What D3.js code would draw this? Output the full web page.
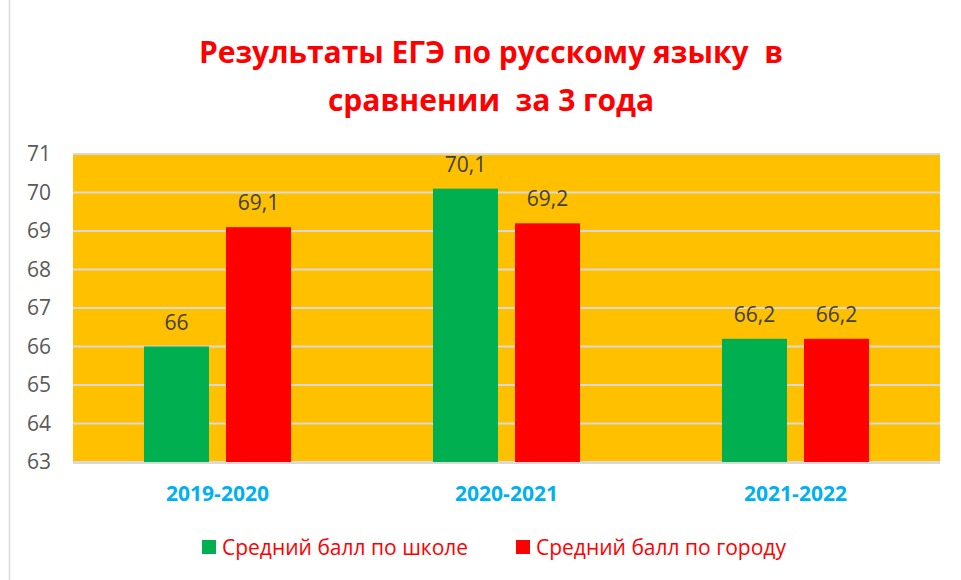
<!DOCTYPE html>
<html><head><meta charset="utf-8">
<script src="https://cdn.jsdelivr.net/npm/d3@7"></script>
<style>body{margin:0;background:#fff}svg{display:block}</style>
</head><body>
<script>
const categories = ["2019-2020", "2020-2021", "2021-2022"];
const seriesNames = ["Средний балл по школе", "Средний балл по городу"];
const schoolValues = [66, 70.1, 66.2];
const cityValues = [69.1, 69.2, 66.2];
const yTicks = [63, 64, 65, 66, 67, 68, 69, 70, 71];
const titleLines = ["Результаты ЕГЭ по русскому языку  в", "сравнении  за 3 года"];
const colors = ["#00B050", "#FF0000"];

const W = 961, H = 580;
const m = {left: 73, right: 21, top: 154, bottom: 118};
const font = "'Open Sans', sans-serif";

const svg = d3.select("body").append("svg").attr("width", W).attr("height", H);
svg.append("rect").attr("width", W).attr("height", H).attr("fill", "#fff");
svg.append("rect").attr("x", 9.5).attr("y", -2).attr("width", W + 10).attr("height", H + 10)
  .attr("fill", "none").attr("stroke", "#D9D9D9").attr("stroke-width", 1.5);

const x0 = d3.scaleBand().domain(categories).range([m.left, W - m.right]).padding(0);
const groupFrac = 0.5087;
const x1 = d3.scaleBand().domain([0, 1])
  .range([x0.bandwidth() * (1 - groupFrac) / 2, x0.bandwidth() * (1 + groupFrac) / 2])
  .paddingInner(0.2073).paddingOuter(0);
const y = d3.scaleLinear().domain([63, 71]).range([H - m.bottom, m.top]);

svg.append("rect").attr("x", m.left).attr("y", m.top)
  .attr("width", W - m.right - m.left).attr("height", H - m.bottom - m.top).attr("fill", "#FFC000");

// gridlines
svg.append("g").selectAll("line").data(yTicks).join("line")
  .attr("x1", m.left).attr("x2", W - m.right)
  .attr("y1", d => y(d)).attr("y2", d => y(d))
  .attr("stroke", "#D9D9D9").attr("stroke-width", 2);

// y axis labels
const yAxis = d3.axisLeft(y).tickValues(yTicks).tickSize(0).tickPadding(22).tickFormat(d3.format("d"));
const ya = svg.append("g").attr("transform", `translate(${m.left},0)`).call(yAxis);
ya.select(".domain").remove();
ya.selectAll("text").attr("font-family", font).attr("font-size", 21).attr("fill", "#595959");

const data = categories.map((c, i) => ({cat: c, vals: [schoolValues[i], cityValues[i]]}));
const groups = svg.append("g").selectAll("g").data(data).join("g")
  .attr("transform", d => `translate(${x0(d.cat)},0)`);
groups.selectAll("rect").data(d => d.vals.map((v, k) => ({v, k}))).join("rect")
  .attr("x", d => x1(d.k)).attr("width", x1.bandwidth())
  .attr("y", d => y(d.v)).attr("height", d => y(63) - y(d.v))
  .attr("fill", d => colors[d.k]);
groups.selectAll("text").data(d => d.vals.map((v, k) => ({v, k}))).join("text")
  .attr("x", d => x1(d.k) + x1.bandwidth() / 2).attr("y", d => y(d.v) - 17)
  .attr("text-anchor", "middle").attr("font-family", font).attr("font-size", 21).attr("fill", "#404040")
  .text(d => String(d.v).replace(".", ","));

// bottom axis line
svg.append("line").attr("x1", m.left).attr("x2", W - m.right)
  .attr("y1", y(63) + 1).attr("y2", y(63) + 1).attr("stroke", "#D9D9D9").attr("stroke-width", 2);

// x axis labels
const xAxis = d3.axisBottom(x0).tickSize(0).tickPadding(24);
const xa = svg.append("g").attr("transform", `translate(0,${H - m.bottom})`).call(xAxis);
xa.select(".domain").remove();
xa.selectAll("text").attr("font-family", font).attr("font-size", 21).attr("font-weight", "bold").attr("fill", "#00B0F0");

// title
svg.append("g").selectAll("text").data(titleLines).join("text")
  .attr("x", 491).attr("y", (d, i) => 63 + i * 48)
  .attr("text-anchor", "middle").attr("font-family", font).attr("font-weight", "bold")
  .attr("font-size", 30).attr("fill", "#FF0000").attr("xml:space", "preserve")
  .style("white-space", "pre").text(d => d);

// legend
const legX = [202, 516];
const leg = svg.append("g").selectAll("g").data(seriesNames).join("g")
  .attr("transform", (d, i) => `translate(${legX[i]},540)`);
leg.append("rect").attr("width", 14).attr("height", 14).attr("fill", (d, i) => colors[i]);
leg.append("text").attr("x", 20).attr("y", 15).attr("font-family", font).attr("font-size", 21)
  .attr("fill", "#FF0000").text(d => d);
</script>
</body></html>
